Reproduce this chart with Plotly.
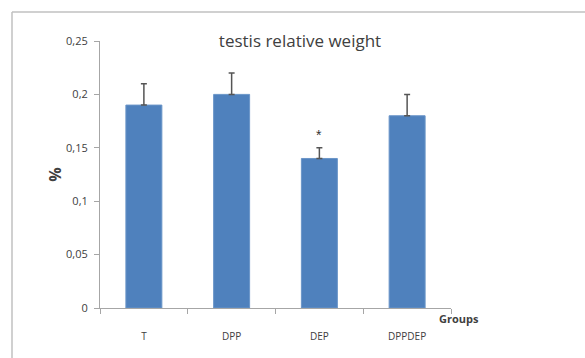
import plotly.graph_objects as go

groups = ["T", "DPP", "DEP", "DPPDEP"]
values = [0.19, 0.20, 0.14, 0.18]
errors = [0.02, 0.02, 0.01, 0.02]
tick_vals = [0, 0.05, 0.1, 0.15, 0.2, 0.25]
tick_text = ["0", "0,05", "0,1", "0,15", "0,2", "0,25"]
sig_group = "DEP"
sig_y = 0.162

W, H = 585, 358
L, R, T, B = 100, 134, 41, 50
pw, ph = W - L - R, H - T - B

def px_to_paper_x(px):
    return (px - L) / pw

def px_to_paper_y(py):
    return (H - B - py) / ph

fig = go.Figure()
fig.add_trace(go.Bar(
    x=groups, y=values,
    marker=dict(color="#4F81BD", line=dict(color="#6A95C8", width=1)),
    width=0.41,
    error_y=dict(type="data", array=errors, symmetric=False, arrayminus=[0]*len(errors),
                 color="#555555", thickness=1.5, width=3),
))

fig.add_annotation(x=sig_group, y=sig_y, text="*", showarrow=False,
                   font=dict(size=14, color="#333333", family="Liberation Sans"))
fig.add_annotation(xref="paper", yref="paper", x=px_to_paper_x(459), y=px_to_paper_y(318),
                   xanchor="center", yanchor="middle",
                   text="<b>Groups</b>", showarrow=False,
                   font=dict(size=11, color="#404040", family="Open Sans"))

# outer chart border (top and left)
fig.add_shape(type="line", xref="paper", yref="paper",
              x0=px_to_paper_x(12), x1=px_to_paper_x(600), y0=px_to_paper_y(12), y1=px_to_paper_y(12),
              line=dict(color="#C0C0C0", width=1.5))
fig.add_shape(type="line", xref="paper", yref="paper",
              x0=px_to_paper_x(12), x1=px_to_paper_x(12), y0=px_to_paper_y(12), y1=px_to_paper_y(370),
              line=dict(color="#C0C0C0", width=1.5))

fig.update_layout(
    width=W, height=H,
    margin=dict(l=L, r=R, t=T, b=B),
    paper_bgcolor="white", plot_bgcolor="white",
    showlegend=False,
    title=dict(text="testis relative weight", x=px_to_paper_x(300), xref="paper",
               y=1 - 41 / H, yanchor="middle", xanchor="center",
               font=dict(size=17, color="#404040", family="Open Sans")),
    font=dict(family="Open Sans", color="#404040"),
)
fig.update_xaxes(
    showline=True, linecolor="#A6A6A6", linewidth=1,
    ticks="outside", ticklen=5, tickcolor="#A6A6A6", tickson="boundaries",
    tickfont=dict(size=10, color="#404040"),
    ticklabelstandoff=19,
    showgrid=False, zeroline=False,
)
fig.update_yaxes(
    range=[0, 0.25], tickvals=tick_vals, ticktext=tick_text,
    showline=True, linecolor="#A6A6A6", linewidth=1,
    ticks="outside", ticklen=5, tickcolor="#A6A6A6",
    tickfont=dict(size=11, color="#404040"),
    ticklabelstandoff=4,
    showgrid=False, zeroline=False,
    title=dict(text="<b>%</b>", font=dict(size=16, color="#404040"), standoff=0),
)
fig.write_html("out.html")
